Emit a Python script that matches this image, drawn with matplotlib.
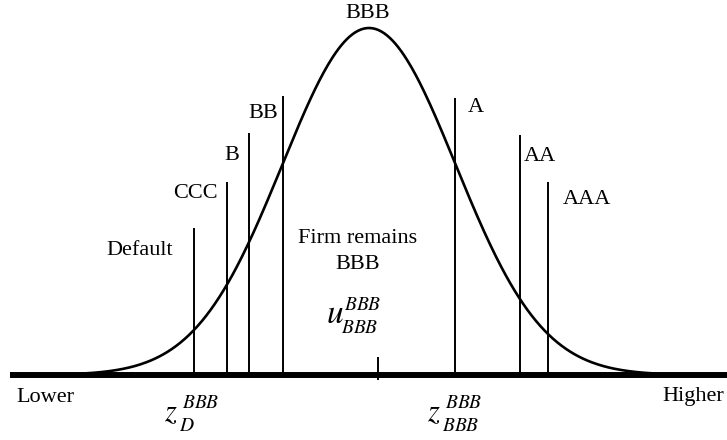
import numpy as np
import matplotlib.pyplot as plt

# rating thresholds in standard-normal units (mean of BBB firm at 0)
ratings = ["Default", "CCC", "B", "BB", "A", "AA", "AAA"]
thresholds = [-2.02, -1.64, -1.386, -0.993, 0.993, 1.744, 2.067]
line_tops = [0.424, 0.556, 0.697, 0.804, 0.798, 0.692, 0.556]

mu = 0.0
sigma = 1.0

plt.rcParams['font.family'] = ['Liberation Serif', 'DejaVu Serif']
plt.rcParams['mathtext.fontset'] = 'stix'

fig = plt.figure(figsize=(7.27, 4.40), dpi=100)
ax = fig.add_axes([0, 0, 1, 1])
ax.set_xlim(-369 / 86.6, (727 - 369) / 86.6)
ax.set_ylim(-65 / 347, 375 / 347)
ax.axis('off')


def pix(px, py):
    # pixel position (top-left origin) -> data coords
    return (px - 369) / 86.6, (375 - py) / 347


# bell curve
z = np.linspace(mu - 3.3 * sigma, mu + 3.3 * sigma, 400)
dens = np.exp(-0.5 * ((z - mu) / sigma) ** 2)
ax.plot(z, dens, color='black', lw=1.9, solid_capstyle='round')

# axis line
ax.plot([-359 / 86.6, (727 - 369) / 86.6], [0, 0], color='black', lw=4.3, solid_capstyle='butt')

# threshold lines
ax.vlines(thresholds, 0, line_tops, color='black', lw=1.4)

# tick at the mean
ax.vlines(0.104, -0.014, 0.052, color='black', lw=1.4)

label_pos = {
    "Default": (-2.644, 0.360),
    "CCC": (-2.009, 0.524),
    "B": (-1.582, 0.634),
    "BB": (-1.224, 0.755),
    "A": (1.236, 0.772),
    "AA": (1.975, 0.631),
    "AAA": (2.517, 0.507),
}
for r in ratings:
    x, y = label_pos[r]
    ax.text(x, y, r, fontsize=16, ha='center', va='center')

ax.text(-0.012, 1.043, "BBB", fontsize=16, ha='center', va='center')
ax.text(-0.127, 0.355, "Firm remains\nBBB", fontsize=16, ha='center', va='center',
        linespacing=1.5)

ax.text(-3.741, -0.066, "Lower", fontsize=16, ha='center', va='center')
ax.text(3.383, -0.063, "Higher", fontsize=16, ha='left', va='center')


def sym(base, sub, x, y, size=22, ssize=14):
    # base letter with super/subscript placed by hand
    ax.text(*pix(x, y), "$%s$" % base, fontsize=size, ha='left', va='baseline')
    ax.text(*pix(x + 18, y - 13), "$BBB$", fontsize=ssize, ha='left', va='baseline')
    ax.text(*pix(x + 15, y + 10), "$%s$" % sub, fontsize=ssize, ha='left', va='baseline')


sym("u", "BBB", 326, 323, size=24)
sym("z", "D", 164, 421)
sym("z", "BBB", 427, 421)

fig.savefig("out.png", dpi=100)
